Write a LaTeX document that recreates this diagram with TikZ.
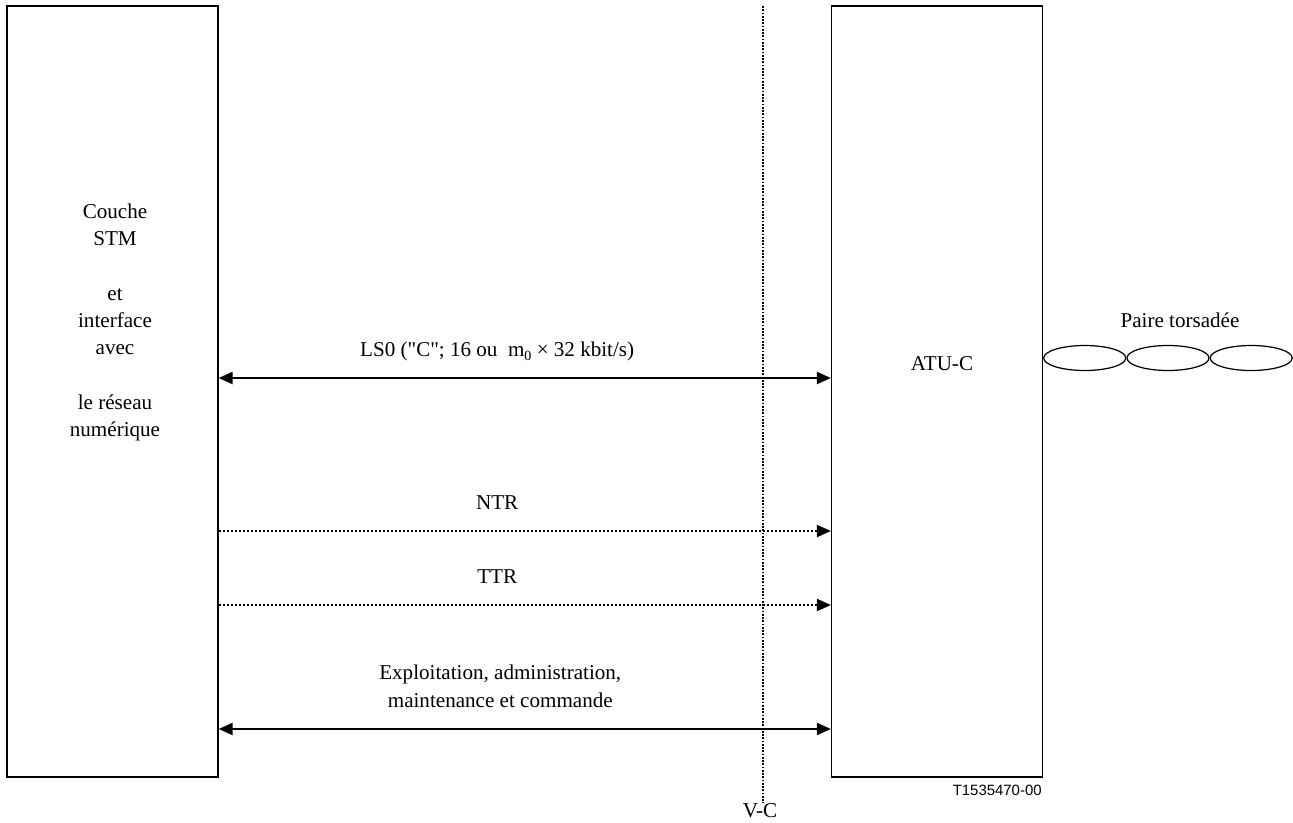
\documentclass[tikz,border=0pt]{standalone}
\usepackage{fontspec}
\setmainfont{Liberation Serif}[Ligatures=TeXOff]
\setsansfont{Liberation Sans}
\usetikzlibrary{arrows.meta,positioning,shapes.geometric}
\newcommand{\subzero}{\raisebox{-0.45ex}{\fontsize{8}{8}\selectfont 0}}
\tikzset{
  unit box/.style={draw,line width=0.7pt,inner sep=0pt,minimum width=42.2mm,
    minimum height=154.2mm},
  unit label/.style={font=\fontsize{12}{15.4}\selectfont,align=center,inner sep=0pt},
  duplex arrow/.style={{Triangle[length=2.8mm,width=2.4mm]}-{Triangle[length=2.8mm,width=2.4mm]},
    line width=1.2pt},
  timing arrow/.style={-{Triangle[length=2.8mm,width=2.4mm]},line width=1.1pt,
    dash pattern=on 0.4mm off 0.4mm},
  flow label/.style={unit label,anchor=base,yshift=4.4mm},
  ref line/.style={line width=1pt,dash pattern=on 0.35mm off 0.3mm},
  pair strand/.style={draw,ellipse,line width=0.7pt,inner sep=0pt,minimum width=16.4mm,
    minimum height=5mm},
  figure tag/.style={font=\sffamily\fontsize{8.5}{10}\selectfont,inner sep=0pt},
}

\begin{document}
\begin{tikzpicture}[x=0.2mm,y=-0.2mm]
  \useasboundingbox (0,0) rectangle (1293,822);

  % The two units and their captions.
  \node[unit box] (stm) at (112.5,391.5) {};
  \node[unit box] (atu) at (937,391.5) {};
  \node[unit label] (stmtext) at (115,322.6)
    {Couche\\STM\\[5.6mm]et\\interface\\avec\\[5.6mm]le réseau\\numérique};
  \node[unit label,anchor=base] (atutext) at (942,370) {ATU-C};

  % Reference point between the two units.
  \coordinate (vctop) at (763,6);
  \node[unit label,anchor=base] (vc) at (760,817) {V-C};
  \draw[ref line] (vctop) -- (vctop |- vc.north);

  % Flows across V-C.
  \draw[duplex arrow] (stm.east |- 0,378) -- node[flow label,pos=0.455]
    {LS0 ("C"; 16 ou\ \ m\subzero\ × 32 kbit/s)} (atu.west |- 0,378);
  \draw[timing arrow] (stm.east |- 0,531) -- node[flow label,pos=0.455]
    {NTR} (atu.west |- 0,531);
  \draw[timing arrow] (stm.east |- 0,605) -- node[flow label,pos=0.455]
    {TTR} (atu.west |- 0,605);
  \draw[duplex arrow] (stm.east |- 0,729) -- node[flow label,pos=0.46]
    {Exploitation, administration,\\maintenance et commande} (atu.west |- 0,729);

  % Twisted pair on the line side.
  \node[pair strand,anchor=west] (pair1) at (atu.east |- 0,358) {};
  \node[pair strand,right=0pt of pair1] (pair2) {};
  \node[pair strand,right=0pt of pair2] (pair3) {};
  \node[unit label,anchor=base] (pairtext) at (1180,327) {Paire torsadée};

  \node[figure tag,anchor=base east] (figref) at (1042,795) {T1535470-00};
\end{tikzpicture}
\end{document}
